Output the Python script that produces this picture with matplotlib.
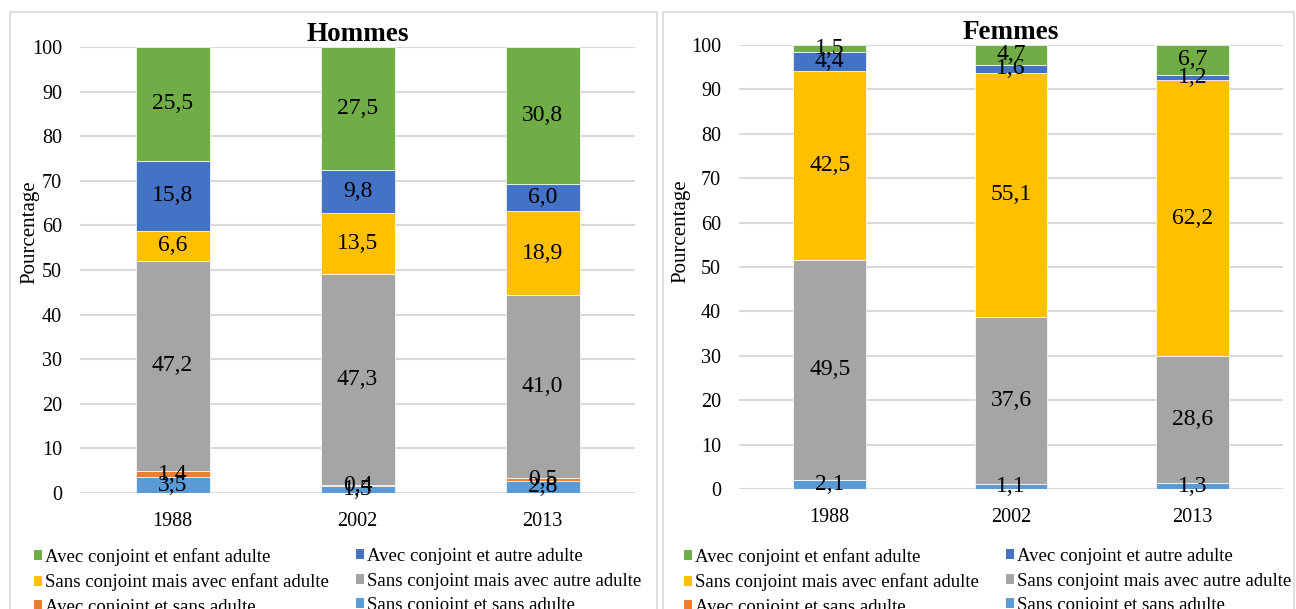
import matplotlib
matplotlib.use('Agg')
import matplotlib.pyplot as plt
from matplotlib.patches import Rectangle, Patch
import numpy as np

plt.rcParams['font.family'] = ['Liberation Serif', 'DejaVu Serif']

years = ['1988', '2002', '2013']
series_names = ['Sans conjoint et sans adulte', 'Avec conjoint et sans adulte',
                'Sans conjoint mais avec autre adulte', 'Sans conjoint mais avec enfant adulte',
                'Avec conjoint et autre adulte', 'Avec conjoint et enfant adulte']
series_colors = ['#5B9BD5', '#ED7D31', '#A5A5A5', '#FFC000', '#4472C4', '#70AD47']

# Hommes (bottom to top)
h_sans_conj_sans_adulte = [3.5, 1.5, 2.8]
h_avec_conj_sans_adulte = [1.4, 0.4, 0.5]
h_sans_conj_autre_adulte = [47.2, 47.3, 41.0]
h_sans_conj_enfant_adulte = [6.6, 13.5, 18.9]
h_avec_conj_autre_adulte = [15.8, 9.8, 6.0]
h_avec_conj_enfant_adulte = [25.5, 27.5, 30.8]

# Femmes (bottom to top)
f_sans_conj_sans_adulte = [2.1, 1.1, 1.3]
f_avec_conj_sans_adulte = [0.0, 0.0, 0.0]
f_sans_conj_autre_adulte = [49.5, 37.6, 28.6]
f_sans_conj_enfant_adulte = [42.5, 55.1, 62.2]
f_avec_conj_autre_adulte = [4.4, 1.6, 1.2]
f_avec_conj_enfant_adulte = [1.5, 4.7, 6.7]

hommes = [h_sans_conj_sans_adulte, h_avec_conj_sans_adulte, h_sans_conj_autre_adulte,
          h_sans_conj_enfant_adulte, h_avec_conj_autre_adulte, h_avec_conj_enfant_adulte]
femmes = [f_sans_conj_sans_adulte, f_avec_conj_sans_adulte, f_sans_conj_autre_adulte,
          f_sans_conj_enfant_adulte, f_avec_conj_autre_adulte, f_avec_conj_enfant_adulte]

W, H = 1296, 609
fig = plt.figure(figsize=(W / 100, H / 100), dpi=100)

def fx(px):
    return px / W

def fy(py):
    return 1 - py / H

# panel frames
for (x0, x1) in [(10, 657), (663, 1294)]:
    fig.patches.append(Rectangle((fx(x0), fy(620)), fx(x1) - fx(x0), fy(12) - fy(620),
                                 transform=fig.transFigure, fill=False,
                                 edgecolor='#D9D9D9', linewidth=1.2, zorder=0))

grid_color = '#D9D9D9'

def draw_panel(rect, data, title, title_pad, ylabel_pos):
    ax = fig.add_axes(rect)
    x = np.arange(len(years))
    bottom = np.zeros(len(years))
    for vals, color in zip(data, series_colors):
        vals = np.array(vals)
        ax.bar(x, vals, width=0.4, bottom=bottom, color=color, edgecolor='white',
               linewidth=0.5, zorder=3)
        for xi, v, b in zip(x, vals, bottom):
            if v > 0:
                ax.text(xi, b + v / 2, f"{v:.1f}".replace('.', ','), ha='center',
                        va='center', fontsize=17, color='black', zorder=4)
        bottom += vals
    ax.set_xlim(-0.5, 2.5)
    ax.set_ylim(0, 100)
    ax.set_yticks(np.arange(0, 101, 10))
    ax.set_xticks(x)
    ax.set_xticklabels(years)
    ax.tick_params(axis='both', length=0, labelsize=14.5, colors='black')
    ax.tick_params(axis='y', pad=13)
    ax.tick_params(axis='x', pad=14)
    ax.yaxis.grid(True, color=grid_color, linewidth=1.5, zorder=0)
    ax.set_axisbelow(True)
    for s in ax.spines.values():
        s.set_visible(False)
    ax.set_title(title, fontsize=19.5, fontweight='bold', pad=title_pad)
    fig.text(fx(ylabel_pos[0]), fy(ylabel_pos[1]), 'Pourcentage', rotation=90,
             ha='center', va='center', fontsize=15)
    return ax

draw_panel([fx(80), fy(493), fx(635) - fx(80), fy(47) - fy(493)], hommes, 'Hommes', 3, (30, 232))
draw_panel([fx(739), fy(489), fx(1283) - fx(739), fy(45) - fy(489)], femmes, 'Femmes', 1.5, (681, 231))

columns = [[5, 3, 1], [4, 2, 0]]
col_positions = [(34, 356), (684, 1006)]
for lefts in col_positions:
    for left, idxs in zip(lefts, columns):
        handles = [Patch(facecolor=series_colors[i], edgecolor='none') for i in idxs]
        labels = [series_names[i] for i in idxs]
        leg = fig.legend(handles, labels, loc='upper left', bbox_to_anchor=(fx(left), fy(548)),
                         ncol=1, frameon=False, fontsize=13.5, borderpad=0, borderaxespad=0,
                         handlelength=0.45, handleheight=0.45, handletextpad=0.15,
                         labelspacing=0.4)

fig.savefig('out.png', dpi=100)
